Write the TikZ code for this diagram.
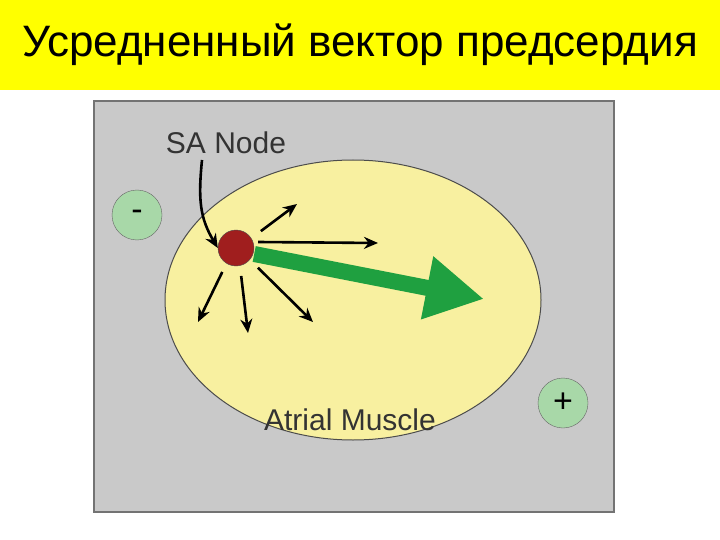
\documentclass[tikz,border=0pt]{standalone}
\usepackage{fontspec}
\setmainfont{Liberation Sans}
\usetikzlibrary{arrows.meta}
\definecolor{ttl}{HTML}{FFFF00}
\definecolor{bg}{HTML}{C9C9C9}
\definecolor{musc}{HTML}{F8F0A0}
\definecolor{elec}{HTML}{A8D8A8}
\definecolor{sa}{HTML}{A01E1E}
\definecolor{vec}{HTML}{1FA040}
\tikzset{electrode/.style={circle,draw=black!60,fill=elec,minimum size=50pt,inner sep=0pt,font=\fontsize{34}{36}\selectfont},
 small/.style={-{Stealth[length=14pt,width=12pt]},line width=2.6pt},
 lbl/.style={font=\fontsize{30}{32}\selectfont,text=black!80}}
\begin{document}
\begin{tikzpicture}[x=1pt,y=-1pt]
\useasboundingbox (0,0) rectangle (720,540);
\fill[white] (0,0) rectangle (720,540);
\fill[ttl] (0,0) rectangle (720,90);
\node (title) at (360,45) {\fontsize{44}{46}\selectfont Усредненный вектор предсердия};
\draw[black!55,fill=bg,line width=1.5pt] (94,101) rectangle (614,512);
\draw[black!70,fill=musc,line width=1pt] (353,300) ellipse [x radius=188, y radius=140];
\node[electrode] (minus) at (137,215) {-};
\node[electrode] (plus) at (563,403) {+};
\node[circle,draw=black!70,fill=sa,minimum size=36pt,inner sep=0pt] (sa) at (236,248) {};
\coordinate (g) at (484,299);
\draw[vec,line width=16pt,-{Triangle[length=58pt,width=60pt]}] (sa.east) ++(0,6) -- (g);
\coordinate (a1) at (297,204);
\coordinate (a2) at (378,243);
\coordinate (a3) at (313,322);
\coordinate (a4) at (248,333);
\coordinate (a5) at (198,322);
\draw[small] (sa.45) ++(12,-4) -- (a1);
\draw[small] (sa.east) ++(4,-6) -- (a2);
\draw[small] (sa.-40) ++(8,8) -- (a3);
\draw[small] (sa.-80) ++(2,10) -- (a4);
\draw[small] (sa.-130) ++(-2,10) -- (a5);
\node[lbl] (salbl) at (226,143) {SA Node};
\node[lbl] (mlbl) at (350,420) {Atrial Muscle};
\draw[small] (202,160) .. controls (198,200) and (200,218) .. (sa.west);
\end{tikzpicture}
\end{document}
